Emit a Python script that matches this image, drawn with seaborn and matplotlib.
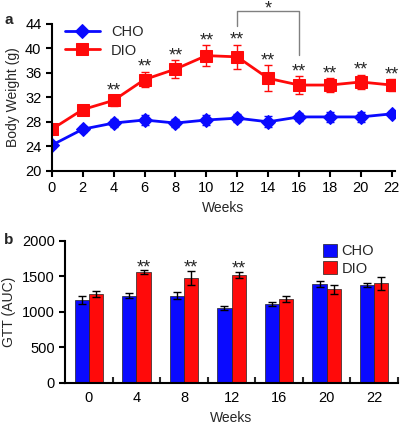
import numpy as np
import pandas as pd
import matplotlib
matplotlib.use("Agg")
import matplotlib.pyplot as plt
import seaborn as sns

# -------------------------------
# Data
# -------------------------------
weeks = [0, 2, 4, 6, 8, 10, 12, 14, 16, 18, 20, 22]
cho_bw = [24.2, 26.8, 27.8, 28.3, 27.8, 28.3, 28.6, 28.0, 28.8, 28.8, 28.8, 29.3]
cho_bw_err = [0.4, 0.5, 0.6, 0.8, 0.6, 0.8, 0.7, 0.9, 0.7, 0.8, 0.8, 0.5]
dio_bw = [26.8, 30.0, 31.5, 34.9, 36.6, 38.8, 38.6, 35.1, 34.0, 34.0, 34.5, 34.0]
dio_bw_err = [0.8, 0.6, 0.9, 1.3, 1.5, 1.7, 2.0, 2.1, 1.4, 1.1, 1.2, 1.0]

gtt_weeks = ["0", "4", "8", "12", "16", "20", "22"]
cho_gtt = [1170, 1230, 1225, 1050, 1110, 1390, 1375]
cho_gtt_err = [60, 40, 50, 30, 25, 40, 25]
dio_gtt = [1255, 1560, 1475, 1515, 1180, 1315, 1400]
dio_gtt_err = [40, 25, 100, 45, 45, 60, 90]
gtt_sig = ["", "**", "**", "**", "", "", ""]

BLUE = "#0a0aff"
RED = "#ff0a0a"

sns.set_style("ticks")
plt.rcParams["font.family"] = ["Liberation Sans", "DejaVu Sans"]
plt.rcParams["font.size"] = 10

fig = plt.figure(figsize=(4.02, 4.24), dpi=100)

# -------------------------------
# Panel a: body weight
# -------------------------------
ax1 = fig.add_axes([0.129, 0.597, 0.853, 0.347])
sns.lineplot(x=weeks, y=cho_bw, ax=ax1, color=BLUE, marker="D", markersize=7,
             markeredgecolor=BLUE, linewidth=2, label="CHO")
sns.lineplot(x=weeks, y=dio_bw, ax=ax1, color=RED, marker="s", markersize=8,
             markeredgecolor=RED, linewidth=2, label="DIO")
ax1.errorbar(weeks, cho_bw, yerr=cho_bw_err, fmt="none", ecolor=BLUE,
             elinewidth=1, capsize=3)
ax1.errorbar(weeks, dio_bw, yerr=dio_bw_err, fmt="none", ecolor=RED,
             elinewidth=1, capsize=3)

for w, v, e in zip(weeks[2:], dio_bw[2:], dio_bw_err[2:]):
    ax1.annotate("**", (w, v + e), xytext=(0, 3), textcoords="offset points",
                 ha="center", va="center", fontsize=13)

# bracket 12 vs 16
ax1.plot([12, 12, 16, 16], [43.7, 46.1, 46.1, 38.9], color="gray",
         linewidth=1, clip_on=False)
ax1.annotate("*", (14, 46.1), xytext=(0, 1.5), textcoords="offset points",
             ha="center", va="center", fontsize=13, annotation_clip=False)

ax1.set_xlim(0, 22.2)
ax1.set_ylim(20, 44)
ax1.set_xticks(weeks)
ax1.set_yticks(range(20, 45, 4))
ax1.set_xlabel("Weeks", fontsize=10)
ax1.set_ylabel("Body Weight (g)", fontsize=10)
sns.despine(ax=ax1)
for s in ["left", "bottom"]:
    ax1.spines[s].set_linewidth(1.5)
    ax1.spines[s].set_color("black")
ax1.tick_params(width=1.5, length=4, labelsize=10.5, colors="black")
ax1.legend(loc="upper left", bbox_to_anchor=(0.02, 1.03), frameon=False,
           handlelength=2.4, fontsize=10.5, labelspacing=0.3, borderaxespad=0)
fig.text(0.01, 0.943, "a", fontweight="bold", fontsize=11)

# -------------------------------
# Panel b: GTT
# -------------------------------
gtt_df = pd.DataFrame({
    "Weeks": gtt_weeks * 2,
    "AUC": cho_gtt + dio_gtt,
    "Group": ["CHO"] * len(gtt_weeks) + ["DIO"] * len(gtt_weeks),
})

ax2 = fig.add_axes([0.162, 0.097, 0.828, 0.335])
sns.barplot(data=gtt_df, x="Weeks", y="AUC", hue="Group",
            palette=[BLUE, RED], saturation=1, width=0.6, edgecolor="#222222",
            linewidth=0.5, errorbar=None, ax=ax2)

pos = np.arange(len(gtt_weeks))
ax2.errorbar(pos - 0.15, cho_gtt, yerr=cho_gtt_err, fmt="none", ecolor="black",
             elinewidth=1, capsize=3)
ax2.errorbar(pos + 0.15, dio_gtt, yerr=dio_gtt_err, fmt="none", ecolor="black",
             elinewidth=1, capsize=3)
for p, v, e, s in zip(pos, dio_gtt, dio_gtt_err, gtt_sig):
    if s:
        ax2.annotate(s, (p + 0.15, v + e), xytext=(0, 2),
                     textcoords="offset points", ha="center", va="center",
                     fontsize=13)

ax2.set_xlim(-0.5, 6.5)
ax2.set_ylim(0, 2000)
ax2.set_yticks([0, 500, 1000, 1500, 2000])
ax2.set_xticks(pos + 0.5, minor=True)
ax2.tick_params(axis="x", which="major", length=0, pad=6)
ax2.tick_params(axis="x", which="minor", length=4, width=1.5, direction="in")
ax2.tick_params(axis="y", length=4, width=1.5)
ax2.tick_params(labelsize=10.5, colors="black")
ax2.set_xlabel("Weeks", fontsize=10, labelpad=4)
ax2.set_ylabel("GTT (AUC)", fontsize=10)
sns.despine(ax=ax2)
for s in ["left", "bottom"]:
    ax2.spines[s].set_linewidth(1.5)
    ax2.spines[s].set_color("black")
ax2.legend(loc="upper right", bbox_to_anchor=(0.946, 1.02), frameon=False,
           handlelength=1.0, handleheight=1.0, fontsize=10.5, labelspacing=0.2,
           handletextpad=0.3, borderaxespad=0)
fig.text(0.01, 0.425, "b", fontweight="bold", fontsize=11)

fig.savefig("out.png", dpi=100)
